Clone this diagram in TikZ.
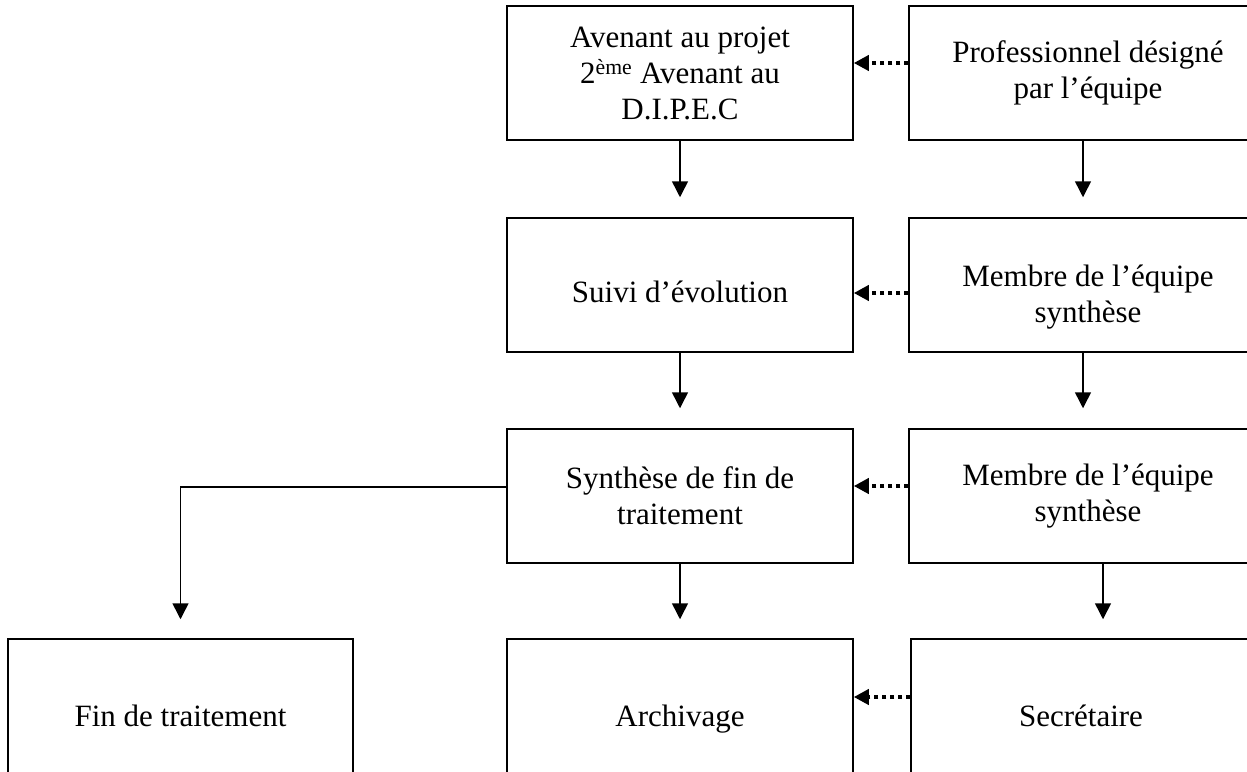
\documentclass[tikz,border=0pt]{standalone}
\usepackage{fontspec}
\setmainfont{Liberation Serif}
\usetikzlibrary{arrows.meta,calc}
\begin{document}
\begin{tikzpicture}[x=1pt,y=-1pt,
  txt/.style={align=center,inner sep=0pt,font=\fontsize{31}{36}\selectfont},
  box/.style={draw,line width=1.5pt,rectangle,inner sep=0pt,txt},
  % text set somewhat below the middle of its box
  lowtxt/.style 2 args={label={[txt,yshift=-#1]center:{#2}}},
  arr/.style={line width=1.5pt,-{Triangle[width=16pt,length=16pt]}},
  dotarr/.style={line width=4pt,dash pattern=on 4pt off 4pt,
    -{Triangle[width=15pt,length=15pt]}}]
\useasboundingbox (0,0) rectangle (1247,771);
\clip (0,0) rectangle (1247,771);
% first row
\node[box,minimum width=346pt,minimum height=134pt] (A) at (680,73)
  {Avenant au projet\\2\textsuperscript{ème} Avenant au\\D.I.P.E.C};
\node[box,minimum width=358pt,minimum height=134pt] (B) at (1088,73)
  {Professionnel désigné\\par l'équipe};
% second row
\node[box,minimum width=346pt,minimum height=134pt,
  lowtxt={10pt}{\strut Suivi d'évolution}] (C) at (680,285) {};
\node[box,minimum width=358pt,minimum height=134pt,
  lowtxt={12pt}{Membre de l'équipe\\synthèse}] (D) at (1088,285) {};
% third row
\node[box,minimum width=346pt,minimum height=134pt] (E) at (680,496)
  {Synthèse de fin de\\traitement};
\node[box,minimum width=358pt,minimum height=134pt] (F) at (1088,496)
  {Membre de l'équipe\\synthèse};
% last row, running past the lower edge
\node[box,minimum width=345pt,minimum height=154pt,
  lowtxt={3pt}{\strut Fin de traitement}] (G) at (180.5,716) {};
\node[box,minimum width=346pt,minimum height=154pt,
  lowtxt={3pt}{\strut Archivage}] (H) at (680,716) {};
\node[box,minimum width=340pt,minimum height=154pt,
  lowtxt={3pt}{\strut Secrétaire}] (I) at (1081,716) {};
% dotted links from the actors
\draw[dotarr] ([yshift=10pt]B.west) -- ([yshift=10pt]B.west -| A.east);
\draw[dotarr] ([yshift=-8pt]D.west) -- ([yshift=-8pt]D.west -| C.east);
\draw[dotarr] ([yshift=10pt]F.west) -- ([yshift=10pt]F.west -| E.east);
\draw[dotarr] ([yshift=19pt]I.west) -- ([yshift=19pt]I.west -| H.east);
% middle column
\draw[arr] (A.south) -- ([yshift=20pt]A.south |- C.north);
\draw[arr] (C.south) -- ([yshift=20pt]C.south |- E.north);
\draw[arr] (E.south) -- ([yshift=19pt]E.south |- H.north);
% right column
\draw[arr] ([xshift=-5pt]B.south) -- ([xshift=-5pt,yshift=20pt]B.south |- D.north);
\draw[arr] ([xshift=-5pt]D.south) -- ([xshift=-5pt,yshift=20pt]D.south |- F.north);
\draw[arr] ([xshift=15pt]F.south) -- ([xshift=15pt,yshift=19pt]F.south |- I.north);
% branch to the end of treatment
\coordinate (K) at ([yshift=9pt]E.west -| G.north);
\draw[arr] ([yshift=9pt]E.west) -- (K) -- ([yshift=19pt]G.north);
\end{tikzpicture}
\end{document}
